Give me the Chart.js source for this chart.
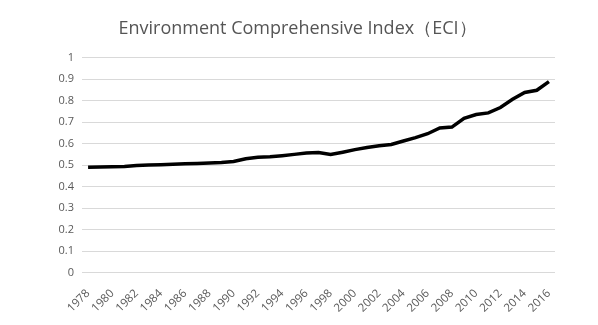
<!DOCTYPE html>
<html>
<head>
<meta charset="utf-8">
<script src="https://cdn.jsdelivr.net/npm/chart.js@4"></script>
<style>
  html, body { margin: 0; padding: 0; background: #fff; }
  #wrap { width: 598px; height: 325px; position: relative; }
</style>
</head>
<body>
<div id="wrap"><canvas id="c" width="598" height="325"></canvas></div>
<script>
const title = "Environment Comprehensive Index（ECI）";
const years = [];
for (let y = 1978; y <= 2016; y++) years.push(String(y));
const eci = [0.490, 0.491, 0.492, 0.494, 0.498, 0.500, 0.502, 0.504, 0.506, 0.508,
             0.510, 0.512, 0.517, 0.530, 0.537, 0.539, 0.544, 0.550, 0.556, 0.559,
             0.549, 0.560, 0.572, 0.582, 0.590, 0.596, 0.612, 0.628, 0.646, 0.673,
             0.677, 0.718, 0.735, 0.743, 0.768, 0.806, 0.838, 0.848, 0.888];
const yMin = 0, yMax = 1, yStep = 0.1;

const grey = '#595959';
new Chart(document.getElementById('c'), {
  type: 'line',
  data: {
    labels: years,
    datasets: [{
      label: 'ECI',
      data: eci,
      borderColor: '#000',
      borderWidth: 3.5,
      pointRadius: 0,
      tension: 0,
      fill: false
    }]
  },
  options: {
    responsive: false,
    animation: false,
    devicePixelRatio: 1,
    layout: { padding: { left: 40, right: 43, top: 8, bottom: 4 } },
    plugins: {
      legend: { display: false },
      tooltip: { enabled: false },
      title: {
        display: true,
        text: title,
        color: '#555',
        font: { family: 'Open Sans', size: 18, weight: 'normal' },
        padding: { top: 10, bottom: 18 }
      }
    },
    scales: {
      x: {
        offset: true,
        grid: { display: false },
        border: { display: false },
        ticks: {
          autoSkip: false,
          maxRotation: 45,
          minRotation: 45,
          color: grey,
          font: { family: 'Open Sans', size: 11.5 },
          padding: 6,
          callback: function(v, i) { return i % 2 === 0 ? this.getLabelForValue(v) : ''; }
        }
      },
      y: {
        min: yMin,
        max: yMax,
        ticks: {
          stepSize: yStep,
          color: grey,
          font: { family: 'Open Sans', size: 11 },
          padding: 8,
          callback: v => String(Math.round(v * 10) / 10)
        },
        grid: { color: '#d9d9d9', drawTicks: false, lineWidth: 1 },
        border: { display: false },
        afterFit: s => { s.width = 42; }
      }
    }
  }
});
</script>
</body>
</html>
